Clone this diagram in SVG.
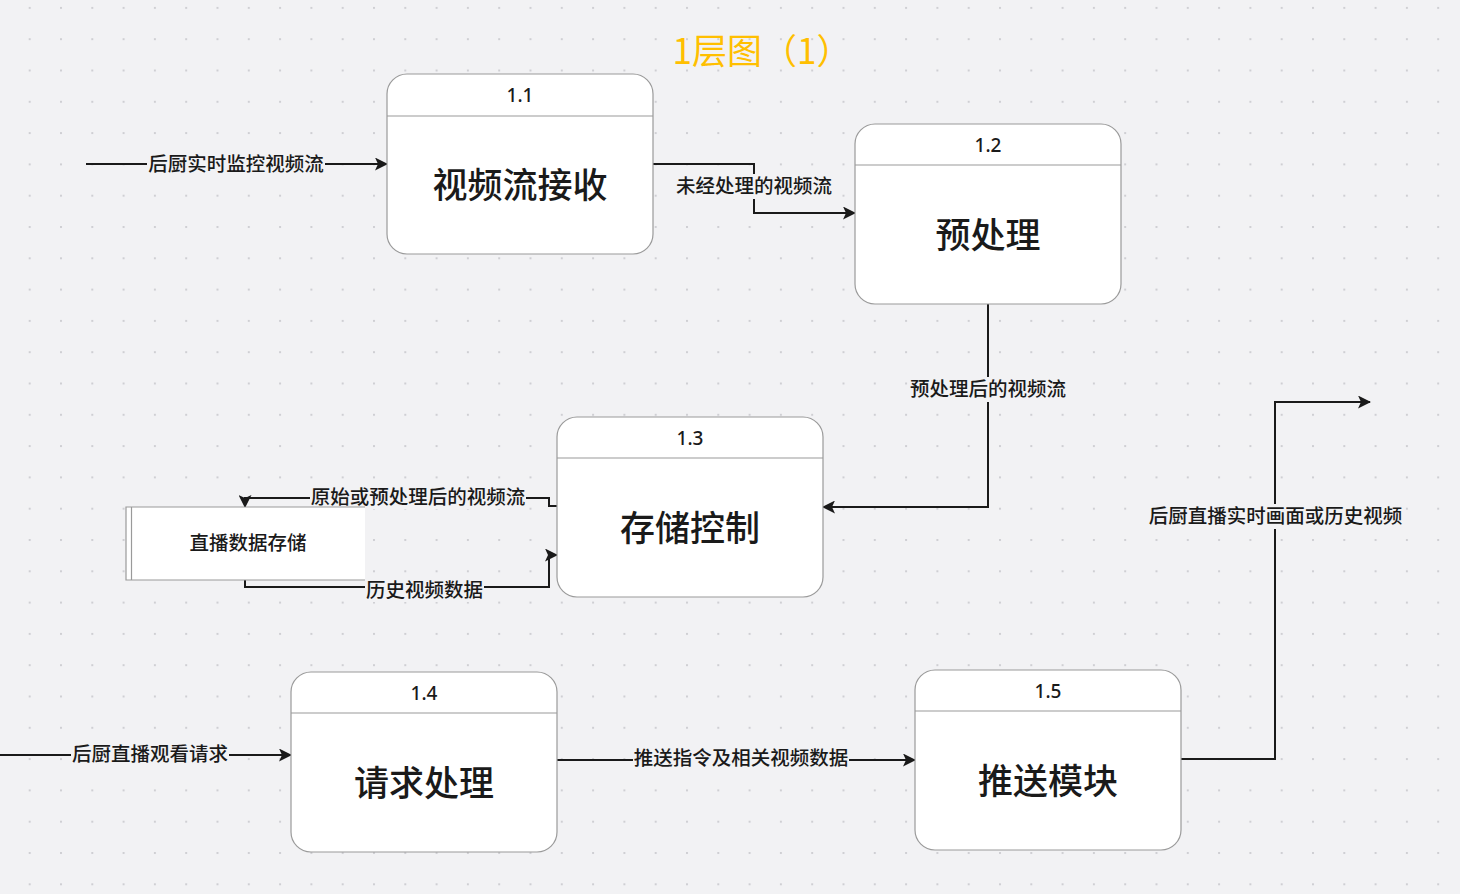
<svg xmlns="http://www.w3.org/2000/svg" width="1460" height="894" viewBox="0 0 1460 894">
<defs>
<pattern id="dots" x="28.7" y="6.9" width="31.3" height="31.3" patternUnits="userSpaceOnUse">
<rect x="0" y="0" width="2" height="2" fill="#cfcfd3"/>
</pattern>
<marker id="arr" viewBox="0 0 13 13" refX="12" refY="6.5" markerWidth="13" markerHeight="13" markerUnits="userSpaceOnUse" orient="auto">
<path d="M0,0 L13,6.5 L0,13 L3,6.5 Z" fill="#1a1a1a"/>
</marker>
<style>
.node rect.box{fill:#ffffff;stroke:#9a9a9a;stroke-width:1.2}
.node line{stroke:#9a9a9a;stroke-width:1.2}
.num{font-family:"Noto Sans","Noto Sans CJK SC",sans-serif;font-size:19px;font-weight:500;fill:#1a1a1a;text-anchor:middle;dominant-baseline:central}
.main{font-family:"Noto Sans CJK SC",sans-serif;font-size:35px;font-weight:500;fill:#1a1a1a;text-anchor:middle;dominant-baseline:central}
.edge{fill:none;stroke:#1a1a1a;stroke-width:2}
.lbg{fill:#f2f2f4}
.lbl{font-family:"Noto Sans CJK SC",sans-serif;font-size:19.5px;font-weight:500;fill:#1a1a1a;text-anchor:middle;dominant-baseline:central}
.title{font-family:"Noto Sans CJK SC",sans-serif;font-size:35px;fill:#ffbf00;text-anchor:middle;dominant-baseline:central}
</style>
</defs>
<rect x="0" y="0" width="1460" height="894" fill="#f2f2f4"/>
<rect x="0" y="0" width="1460" height="894" fill="url(#dots)"/>

<text class="title" x="762" y="48">1层图（1）</text>

<g id="connectors">
<path class="edge" d="M86,164 L387,164" marker-end="url(#arr)"/>
<path class="edge" d="M653,164 L754,164 L754,213 L855,213" marker-end="url(#arr)"/>
<path class="edge" d="M988,304 L988,507 L823,507" marker-end="url(#arr)"/>
<path class="edge" d="M557,506 L549,506 L549,498 L245,498 L245,507" marker-end="url(#arr)"/>
<path class="edge" d="M245,580 L245,587 L549,587 L549,555 L557,555" marker-end="url(#arr)"/>
<path class="edge" d="M0,755 L291,755" marker-end="url(#arr)"/>
<path class="edge" d="M557,760 L915,760" marker-end="url(#arr)"/>
<path class="edge" d="M1181,759 L1275,759 L1275,402 L1370,402" marker-end="url(#arr)"/>

<rect class="lbg" x="147" y="153" width="178" height="23"/>
<text class="lbl" x="236" y="162.5">后厨实时监控视频流</text>
<rect class="lbg" x="675" y="174" width="158" height="25"/>
<text class="lbl" x="754" y="184.5">未经处理的视频流</text>
<rect class="lbg" x="909" y="377" width="158" height="25"/>
<text class="lbl" x="988" y="387.5">预处理后的视频流</text>
<rect class="lbg" x="310" y="486" width="216" height="23"/>
<text class="lbl" x="418" y="495.5">原始或预处理后的视频流</text>
<rect class="lbg" x="365" y="578" width="119" height="24"/>
<text class="lbl" x="424.5" y="588.5">历史视频数据</text>
<rect class="lbg" x="71" y="743" width="158" height="23"/>
<text class="lbl" x="150" y="752.5">后厨直播观看请求</text>
<rect class="lbg" x="633" y="747" width="216" height="23"/>
<text class="lbl" x="741" y="756.5">推送指令及相关视频数据</text>
<rect class="lbg" x="1148" y="504" width="256" height="25"/>
<text class="lbl" x="1275.5" y="514.5">后厨直播实时画面或历史视频</text>
</g>

<g id="store" class="store">
<rect x="126" y="507" width="239" height="73" fill="#ffffff"/>
<path d="M365,507 L126,507 L126,580 L365,580" fill="none" stroke="#9a9a9a" stroke-width="1.2"/>
<line x1="131.5" y1="507" x2="131.5" y2="580" stroke="#9a9a9a" stroke-width="1.2"/>
<text class="lbl" x="248" y="541.5">直播数据存储</text>
</g>

<g id="n11" class="node">
<rect class="box" x="387" y="74" width="266" height="180" rx="20"/>
<line x1="387" y1="116" x2="653" y2="116"/>
<text class="num" x="520" y="95">1.1</text>
<text class="main" x="520" y="182.5">视频流接收</text>
</g>
<g id="n12" class="node">
<rect class="box" x="855" y="124" width="266" height="180" rx="20"/>
<line x1="855" y1="165" x2="1121" y2="165"/>
<text class="num" x="988" y="145">1.2</text>
<text class="main" x="988" y="232.5">预处理</text>
</g>
<g id="n13" class="node">
<rect class="box" x="557" y="417" width="266" height="180" rx="20"/>
<line x1="557" y1="458" x2="823" y2="458"/>
<text class="num" x="690" y="438">1.3</text>
<text class="main" x="690" y="525.5">存储控制</text>
</g>
<g id="n14" class="node">
<rect class="box" x="291" y="672" width="266" height="180" rx="20"/>
<line x1="291" y1="713" x2="557" y2="713"/>
<text class="num" x="424" y="693">1.4</text>
<text class="main" x="424" y="780.5">请求处理</text>
</g>
<g id="n15" class="node">
<rect class="box" x="915" y="670" width="266" height="180" rx="20"/>
<line x1="915" y1="711" x2="1181" y2="711"/>
<text class="num" x="1048" y="691">1.5</text>
<text class="main" x="1048" y="778.5">推送模块</text>
</g>
</svg>
